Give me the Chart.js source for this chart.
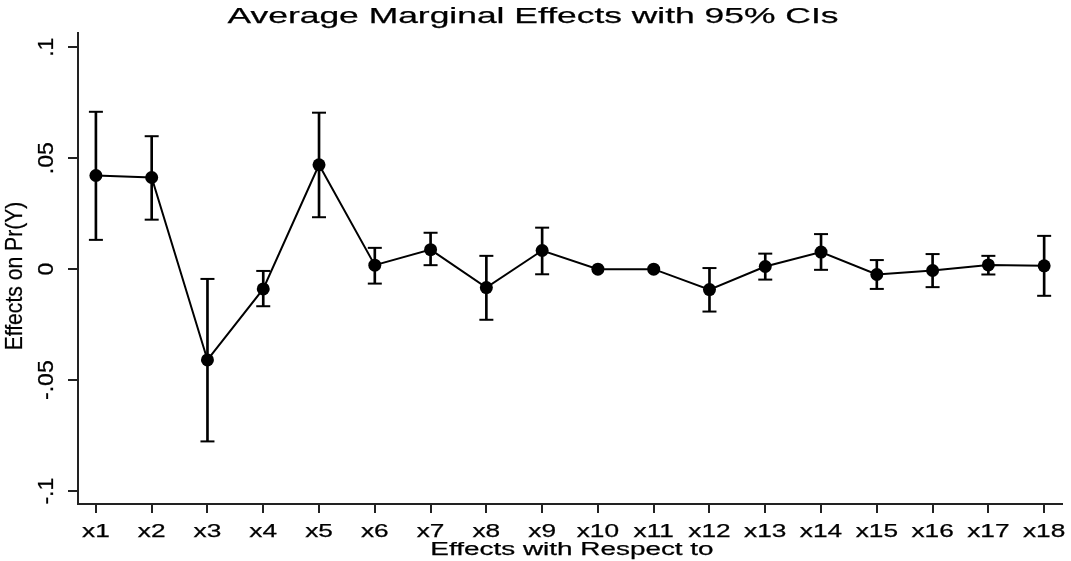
<!DOCTYPE html>
<html>
<head>
<meta charset="utf-8">
<title>Average Marginal Effects with 95% CIs</title>
<script src="https://cdn.jsdelivr.net/npm/chart.js@4/dist/chart.umd.min.js"></script>
<style>
  html, body { margin: 0; padding: 0; background: #fff; }
  #wrap { width: 1071px; height: 561px; position: relative; }
</style>
</head>
<body>
<div id="wrap"><canvas id="chart"></canvas></div>
<script>
// Data
const categories = ['x1', 'x2', 'x3', 'x4', 'x5', 'x6', 'x7', 'x8', 'x9',
                    'x10', 'x11', 'x12', 'x13', 'x14', 'x15', 'x16', 'x17', 'x18'];
const effects = [0.0422, 0.0413, -0.0409, -0.0089, 0.0470, 0.0018, 0.0088, -0.0083, 0.0084,
                 0.0000, 0.0000, -0.0092, 0.0012, 0.0077, -0.0024, -0.0006, 0.0019, 0.0015];
const ciLow = [0.0132, 0.0223, -0.0776, -0.0167, 0.0234, -0.0065, 0.0018, -0.0228, -0.0023,
               null, null, -0.0191, -0.0047, -0.0003, -0.0089, -0.0081, -0.0024, -0.0120];
const ciHigh = [0.0709, 0.0599, -0.0044, -0.0008, 0.0705, 0.0096, 0.0164, 0.0060, 0.0187,
                null, null, 0.0005, 0.0070, 0.0158, 0.0041, 0.0068, 0.0060, 0.0150];
const yTicks = [-0.1, -0.05, 0, 0.05, 0.1];
const yTickLabels = ['-.1', '-.05', '0', '.05', '.1'];

const titleText = 'Average Marginal Effects with 95% CIs';
const xTitleText = 'Effects with Respect to';
const yTitleText = 'Effects on Pr(Y)';

const ink = '#000';
const axisInk = '#222';

// points / bars built from the arrays
const effectPoints = categories.map((c, i) => ({ x: i + 1, y: effects[i] }));
const ciBars = [];
const ciCaps = [];
categories.forEach((c, i) => {
    if (ciLow[i] === null || ciHigh[i] === null) return;
    ciBars.push({ x: i + 1, y: [ciLow[i], ciHigh[i]] });
    ciCaps.push({ x: i + 1, y: ciLow[i] });
    ciCaps.push({ x: i + 1, y: ciHigh[i] });
});

// Stata-style wide text: drawn with a horizontal stretch
function wideText(ctx, text, x, y, font, sx, rot) {
    ctx.save();
    ctx.translate(x, y);
    if (rot) ctx.rotate(rot);
    ctx.scale(sx, 1);
    ctx.font = font;
    ctx.fillStyle = ink;
    ctx.strokeStyle = ink;
    ctx.lineWidth = 0.25;
    ctx.textAlign = 'center';
    ctx.textBaseline = 'alphabetic';
    ctx.fillText(text, 0, 0);
    ctx.strokeText(text, 0, 0);
    ctx.restore();
}

const textPlugin = {
    id: 'stataText',
    afterDraw(chart) {
        const ctx = chart.ctx;
        const xs = chart.scales.x;
        const ys = chart.scales.y;
        const family = '"Liberation Sans", Arial, sans-serif';

        wideText(ctx, titleText, 533, 23, '22px ' + family, 1.61);

        categories.forEach((c, i) => {
            wideText(ctx, c, xs.getPixelForValue(i + 1), 537, '18.5px ' + family, 1.42);
        });
        wideText(ctx, xTitleText, 572, 555, '18px ' + family, 1.55);

        yTicks.forEach((v, i) => {
            wideText(ctx, yTickLabels[i], 53, ys.getPixelForValue(v), '22px ' + family, 1.05, -Math.PI / 2);
        });
        wideText(ctx, yTitleText, 22, 276, '24px ' + family, 0.88, -Math.PI / 2);
    }
};

new Chart(document.getElementById('chart'), {
    data: {
        datasets: [
            {
                type: 'line',
                data: effectPoints,
                borderColor: ink,
                borderWidth: 2,
                backgroundColor: ink,
                pointBackgroundColor: ink,
                pointBorderColor: ink,
                pointRadius: 6.5,
                pointBorderWidth: 0,
                tension: 0,
                order: 1
            },
            {
                type: 'bar',
                data: ciBars,
                backgroundColor: ink,
                borderWidth: 0,
                barThickness: 2,
                order: 2
            },
            {
                type: 'scatter',
                data: ciCaps,
                pointStyle: 'line',
                pointRadius: 7,
                pointBorderWidth: 2,
                pointBorderColor: ink,
                borderColor: ink,
                showLine: false,
                order: 3
            }
        ]
    },
    options: {
        responsive: true,
        maintainAspectRatio: false,
        animation: false,
        layout: { padding: { left: 0, right: 5, top: 33, bottom: 0 } },
        plugins: {
            legend: { display: false },
            title: { display: false },
            tooltip: { enabled: false }
        },
        scales: {
            x: {
                type: 'linear',
                min: 0.679,
                max: 18.32,
                offset: false,
                afterBuildTicks: s => { s.ticks = categories.map((c, i) => ({ value: i + 1 })); },
                afterFit: s => { s.height = 57; },
                ticks: { display: false },
                grid: {
                    offset: false,
                    drawOnChartArea: false,
                    drawTicks: true,
                    tickLength: 9,
                    lineWidth: 2,
                    color: axisInk
                },
                border: { display: true, color: axisInk, width: 2 }
            },
            y: {
                type: 'linear',
                min: -0.1058,
                max: 0.1064,
                afterBuildTicks: s => { s.ticks = yTicks.map(v => ({ value: v })); },
                afterFit: s => { s.width = 78; },
                ticks: { display: false },
                grid: {
                    drawOnChartArea: false,
                    drawTicks: true,
                    tickLength: 10,
                    lineWidth: 2,
                    color: axisInk
                },
                border: { display: true, color: axisInk, width: 2 }
            }
        }
    },
    plugins: [textPlugin]
});
</script>
</body>
</html>
